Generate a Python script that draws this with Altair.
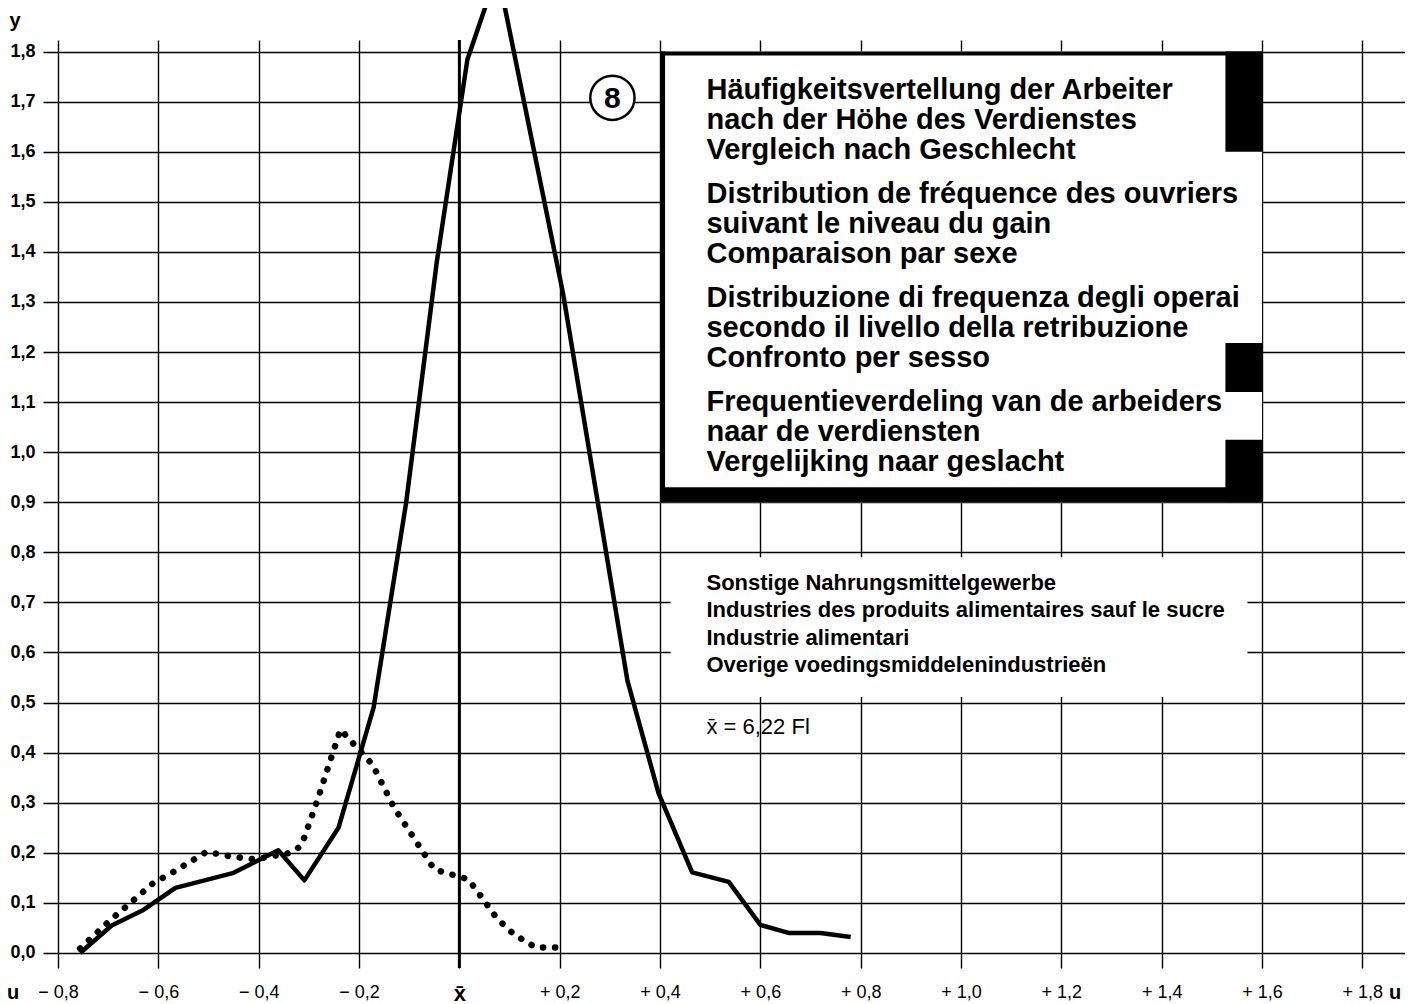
import altair as alt
import pandas as pd

# ---------------- data ----------------
# solid curve (vertices)
solid_u = [-0.756, -0.693, -0.630, -0.566, -0.450, -0.361, -0.309, -0.241, -0.171,
           -0.106, -0.045, 0.016, 0.076, 0.207, 0.335, 0.397, 0.464, 0.537, 0.600,
           0.656, 0.720, 0.780]
solid_y = [0.000, 0.055, 0.086, 0.130, 0.160, 0.205, 0.145, 0.250, 0.490,
           0.900, 1.380, 1.784, 1.960, 1.315, 0.544, 0.319, 0.161, 0.142, 0.056,
           0.040, 0.040, 0.032]

# dotted curve (vertices)
dotted_u = [-0.756, -0.702, -0.611, -0.568, -0.504, -0.456, -0.409, -0.337, -0.315,
            -0.283, -0.260, -0.237, -0.205, -0.173, -0.130, -0.076, -0.050, -0.003,
            0.018, 0.046, 0.075, 0.109, 0.152, 0.199]
dotted_y = [0.009, 0.060, 0.139, 0.163, 0.202, 0.193, 0.187, 0.200, 0.214,
            0.305, 0.376, 0.446, 0.411, 0.376, 0.290, 0.207, 0.167, 0.153,
            0.147, 0.109, 0.069, 0.037, 0.011, 0.011]

x_tick_values = [-0.8, -0.6, -0.4, -0.2, 0.0, 0.2, 0.4, 0.6, 0.8, 1.0, 1.2, 1.4, 1.6, 1.8]
x_tick_labels = ["\u2212 0,8", "\u2212 0,6", "\u2212 0,4", "\u2212 0,2", "x\u0304",
                 "+ 0,2", "+ 0,4", "+ 0,6", "+ 0,8", "+ 1,0", "+ 1,2", "+ 1,4",
                 "+ 1,6", "+ 1,8"]
y_tick_values = [round(i / 10, 1) for i in range(19)]
y_tick_labels = ["0,0", "0,1", "0,2", "0,3", "0,4", "0,5", "0,6", "0,7", "0,8", "0,9",
                 "1,0", "1,1", "1,2", "1,3", "1,4", "1,5", "1,6", "1,7", "1,8"]

title_groups = [
    ["Häufigkeitsvertellung der Arbeiter", "nach der Höhe des Verdienstes",
     "Vergleich nach Geschlecht"],
    ["Distribution de fréquence des ouvriers", "suivant le niveau du gain",
     "Comparaison par sexe"],
    ["Distribuzione di frequenza degli operai", "secondo il livello della retribuzione",
     "Confronto per sesso"],
    ["Frequentieverdeling van de arbeiders", "naar de verdiensten",
     "Vergelijking naar geslacht"],
]
industry_lines = ["Sonstige Nahrungsmittelgewerbe",
                  "Industries des produits alimentaires sauf le sucre",
                  "Industrie alimentari",
                  "Overige voedingsmiddelenindustrieën"]
mean_text = "x\u0304 = 6,22 Fl"
chart_number = "8"

# ---------------- layout helpers ----------------
FONT = "Liberation Sans"
W, H = 1362, 928
X_DOM = [-0.83, 1.885]
Y_DOM = [-0.03, 1.823]


def px_to_y(py):
    # page pixel row -> data y
    return (953 - py) / 500.7


def px_to_u(px):
    return (px - 459) / 501.5


xs = alt.Scale(domain=X_DOM, nice=False, zero=False)
ys = alt.Scale(domain=Y_DOM, nice=False, zero=False)

x_label_expr = "%s[indexof(%s, round(datum.value*10))]" % (
    str(x_tick_labels).replace("'", '"'),
    str([round(v * 10) for v in x_tick_values]))
y_label_expr = "%s[round(datum.value*10)]" % str(y_tick_labels).replace("'", '"')

x_axis = alt.Axis(values=x_tick_values, grid=True, gridColor="black", gridWidth=1.4,
                  gridOpacity=1, domain=False, ticks=False, labelExpr=x_label_expr,
                  labelFont=FONT,
                  labelFontSize={"condition": {"test": "abs(datum.value) < 0.01",
                                               "value": 22}, "value": 18},
                  labelFontWeight={"condition": {"test": "abs(datum.value) < 0.01",
                                                 "value": "bold"}, "value": "normal"},
                  labelColor="black",
                  labelPadding=15, labelFlush=False, labelOverlap=False, title=None)
y_axis = alt.Axis(values=y_tick_values, grid=True, gridColor="black", gridWidth=1.4,
                  gridOpacity=1, domain=False, ticks=False, labelExpr=y_label_expr,
                  labelFont=FONT, labelFontSize=18, labelFontWeight="bold",
                  labelColor="black", labelPadding=8, labelFlush=False,
                  labelOverlap=False, title=None)


def X(field="u"):
    return alt.X(f"{field}:Q", scale=xs, axis=x_axis)


def Y(field="y"):
    return alt.Y(f"{field}:Q", scale=ys, axis=y_axis)


df_solid = pd.DataFrame({"u": solid_u, "y": solid_y})
df_dot = pd.DataFrame({"u": dotted_u, "y": dotted_y})

solid = alt.Chart(df_solid).transform_window(idx="row_number()").mark_line(
    color="black", strokeWidth=4.5, clip=False, strokeJoin="round").encode(
    x=X(), y=Y(), order=alt.Order("idx:Q"))

dotted = alt.Chart(df_dot).transform_window(idx="row_number()").mark_line(
    color="black", strokeWidth=6.5, strokeCap="round", strokeDash=[0.1, 12],
    clip=False).encode(x=X(), y=Y(), order=alt.Order("idx:Q"))

# mean line (x̄) drawn a bit heavier
mean_rule = alt.Chart(pd.DataFrame({"u": [0.0]})).mark_rule(
    color="black", strokeWidth=3).encode(x=X(), y=alt.value(0), y2=alt.value(H))

# title box
box = pd.DataFrame({"u": [0.4], "u2": [1.6], "y": [0.9], "y2": [1.8]})
box_fill = alt.Chart(box).mark_rect(color="white").encode(
    x=X(), x2="u2:Q", y=Y(), y2="y2:Q")

bands = pd.DataFrame({
    "u": [0.4, 0.4, 0.4, 1.527, 1.527, 1.527],
    "u2": [1.6, 0.41, 1.6, 1.6, 1.6, 1.6],
    "y": [1.792, 0.9, 0.9, 1.6, 1.12, 0.9],
    "y2": [1.8, 1.8, 0.93, 1.8, 1.218, 1.025],
})
box_bands = alt.Chart(bands).mark_rect(color="black").encode(
    x=X(), x2="u2:Q", y=Y(), y2="y2:Q")

# white area behind industry names
ind_box = pd.DataFrame({"u": [0.421], "u2": [1.571], "y": [0.511], "y2": [0.79]})
ind_fill = alt.Chart(ind_box).mark_rect(color="white").encode(
    x=X(), x2="u2:Q", y=Y(), y2="y2:Q")

# circled number
circ_df = pd.DataFrame({"u": [px_to_u(612)], "y": [px_to_y(98)], "t": [chart_number]})
circle = alt.Chart(circ_df).mark_point(shape="circle", size=1960, filled=True,
                                       fill="white", stroke="black", strokeWidth=2.5,
                                       opacity=1).encode(x=X(), y=Y())
circle_txt = alt.Chart(circ_df).mark_text(font=FONT, fontSize=30, fontWeight="bold",
                                          color="black", baseline="middle",
                                          align="center", dy=1).encode(
    x=X(), y=Y(), text="t:N")

# title text
rows = []
for g, grp in enumerate(title_groups):
    for l, line in enumerate(grp):
        rows.append({"t": line, "u": px_to_u(706), "y": px_to_y(90 + g * 104 + l * 30)})
title_txt = alt.Chart(pd.DataFrame(rows)).mark_text(
    font=FONT, fontSize=29, fontWeight="bold", color="black", align="left",
    baseline="middle").encode(x=X(), y=Y(), text="t:N")

rows2 = [{"t": line, "u": px_to_u(706), "y": px_to_y(583 + i * 27.3)}
         for i, line in enumerate(industry_lines)]
ind_txt = alt.Chart(pd.DataFrame(rows2)).mark_text(
    font=FONT, fontSize=22, fontWeight="bold", color="black", align="left",
    baseline="middle").encode(x=X(), y=Y(), text="t:N")

mean_df = pd.DataFrame({"t": [mean_text], "u": [px_to_u(706)], "y": [px_to_y(727)]})
mean_txt = alt.Chart(mean_df).mark_text(
    font=FONT, fontSize=22, color="black", align="left", baseline="middle").encode(
    x=X(), y=Y(), text="t:N")

# axis letters
ylab = alt.Chart(pd.DataFrame({"t": ["y"]})).mark_text(
    font=FONT, fontSize=20, fontWeight="bold", color="black", align="center",
    baseline="middle").encode(text="t:N", x=alt.value(-28), y=alt.value(-19))
ulab_left = alt.Chart(pd.DataFrame({"t": ["u"]})).mark_text(
    font=FONT, fontSize=20, fontWeight="bold", color="black", align="center",
    baseline="middle").encode(text="t:N", x=alt.value(-30), y=alt.value(H + 25))
ulab_right = alt.Chart(pd.DataFrame({"t": ["u"]})).mark_text(
    font=FONT, fontSize=20, fontWeight="bold", color="black", align="center",
    baseline="middle").encode(text="t:N", x=alt.value(1352), y=alt.value(H + 25))

chart = alt.layer(
    solid, mean_rule, dotted, box_fill, box_bands, ind_fill, circle, circle_txt,
    title_txt, ind_txt, mean_txt, ylab, ulab_left, ulab_right
).properties(
    width=W, height=H,
    autosize=alt.AutoSizeParams(type="none"),
    padding={"left": 35, "top": 32, "right": 0, "bottom": 40},
    background="white",
).configure_view(strokeWidth=0)

chart.save("out.html", embed_options={"renderer": "svg", "actions": False})
